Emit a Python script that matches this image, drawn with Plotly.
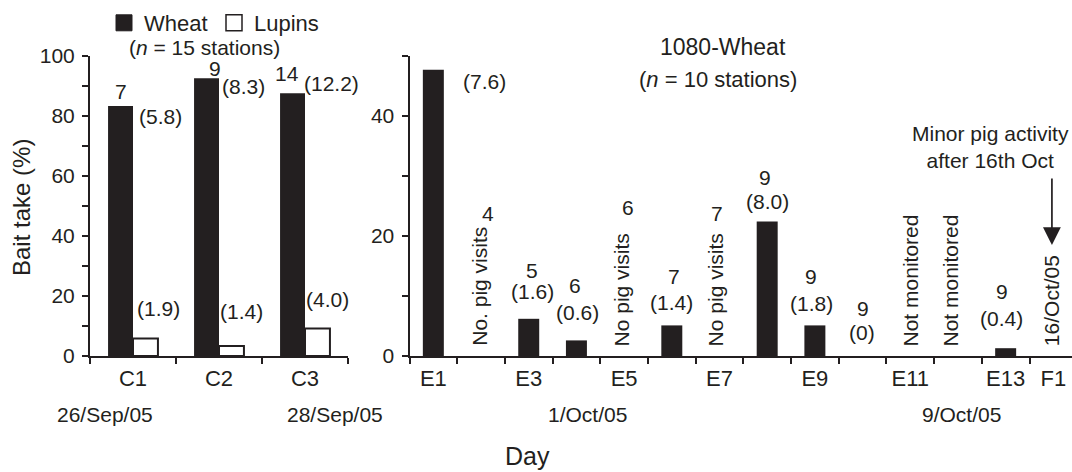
import plotly.graph_objects as go

W, H = 1072, 472
FONT = "Liberation Sans, Arial, Helvetica, sans-serif"
INK = "#231f20"

# ---------------- data ----------------
ctrl_days = ["C1", "C2", "C3"]
wheat_ctrl = [83.3, 92.6, 87.6]
lupin_ctrl = [5.8, 3.3, 9.2]
wheat_ctrl_n = ["7", "9", "14"]
wheat_ctrl_se = ["(5.8)", "(8.3)", "(12.2)"]
lupin_ctrl_se = ["(1.9)", "(1.4)", "(4.0)"]

exp_days = ["E1", "E2", "E3", "E4", "E5", "E6", "E7", "E8", "E9", "E10",
            "E11", "E12", "E13", "F1"]
exp_tick_text = ["E1", "", "E3", "", "E5", "", "E7", "", "E9", "",
                 "E11", "", "E13", "F1"]
wheat_1080 = [47.7, 0, 6.2, 2.6, 0, 5.1, 0, 22.4, 5.1, 0, None, None, 1.3, None]
wheat_1080_n = ["4", "4", "5", "6", "6", "7", "7", "9", "9", "9", "", "", "9", ""]
wheat_1080_se = ["(7.6)", "", "(1.6)", "(0.6)", "", "(1.4)", "", "(8.0)", "(1.8)",
                 "(0)", "", "", "(0.4)", ""]
wheat_1080_note = ["", "No. pig visits", "", "", "No pig visits", "", "No pig visits",
                   "", "", "", "Not monitored", "Not monitored", "", "16/Oct/05"]

date_labels = ["26/Sep/05", "28/Sep/05", "1/Oct/05", "9/Oct/05"]

# ---------------- label placement (layout) ----------------
# left panel: (dx in category units, y in data units)
ctrl_n_pos = [(-0.14, 88.3), (-0.05, 95.7), (-0.21, 94.3)]
ctrl_se_pos = [(0.32, 79.7), (0.29, 89.7), (0.31, 90.7)]
lupin_se_pos = [(0.30, 16.0), (0.26, 14.7), (0.26, 19.0)]
# right panel
exp_n_pos = [(0.0, 51.0), (0.14, 23.8), (0.06, 14.2), (-0.02, 11.7), (0.09, 24.7),
             (0.04, 13.2), (-0.06, 23.8), (-0.04, 29.8), (-0.09, 13.2), (0.0, 8.0),
             None, None, (-0.08, 10.7), None]
exp_se_pos = [(1.07, 45.7), None, (0.08, 10.7), (0.02, 7.3), None, (0.0, 9.0), None,
              (0.0, 25.7), (-0.07, 8.7), (-0.01, 4.0), None, None, (-0.08, 6.2), None]
note_dx = [0, -0.02, 0, 0, -0.05, 0, -0.08, 0, 0, 0, 0.0, -0.16, 0, -0.04]


def px(x):
    return x / W


def py(y):
    return 1 - y / H


fig = go.Figure()

fig.add_trace(go.Bar(x=ctrl_days, y=wheat_ctrl, name="Wheat", xaxis="x", yaxis="y",
                     marker=dict(color=INK, line=dict(width=0)),
                     showlegend=False, hoverinfo="skip"))
fig.add_trace(go.Bar(x=ctrl_days, y=lupin_ctrl, name="Lupins", xaxis="x", yaxis="y",
                     marker=dict(color="white", line=dict(color=INK, width=2)),
                     showlegend=False, hoverinfo="skip"))
fig.add_trace(go.Bar(x=exp_days, y=wheat_1080, name="1080-Wheat", xaxis="x2", yaxis="y2",
                     width=0.44, marker=dict(color=INK, line=dict(width=0)),
                     showlegend=False, hoverinfo="skip"))

# legend entries
fig.add_trace(go.Scatter(x=[None], y=[None], mode="markers", name="Wheat",
                         marker=dict(symbol="square", size=16, color=INK,
                                     line=dict(color=INK, width=1)),
                         legend="legend", xaxis="x", yaxis="y"))
fig.add_trace(go.Scatter(x=[None], y=[None], mode="markers", name="Lupins",
                         marker=dict(symbol="square", size=16, color="white",
                                     line=dict(color=INK, width=1.5)),
                         legend="legend2", xaxis="x", yaxis="y"))

ann = []
tf = dict(family=FONT, size=21, color=INK)
C = dict(xanchor="center", yanchor="middle", showarrow=False)

for i in range(len(ctrl_days)):
    dx, y = ctrl_n_pos[i]
    ann.append(dict(x=i + dx, y=y, xref="x", yref="y", text=wheat_ctrl_n[i],
                    font=tf, **C))
    dx, y = ctrl_se_pos[i]
    ann.append(dict(x=i + dx, y=y, xref="x", yref="y", text=wheat_ctrl_se[i],
                    font=tf, **C))
    dx, y = lupin_se_pos[i]
    ann.append(dict(x=i + dx, y=y, xref="x", yref="y", text=lupin_ctrl_se[i],
                    font=tf, **C))

for i in range(len(exp_days)):
    if exp_n_pos[i] and wheat_1080_n[i]:
        dx, y = exp_n_pos[i]
        ann.append(dict(x=i + dx, y=y, xref="x2", yref="y2", text=wheat_1080_n[i],
                        font=tf, **C))
    if exp_se_pos[i] and wheat_1080_se[i]:
        dx, y = exp_se_pos[i]
        ann.append(dict(x=i + dx, y=y, xref="x2", yref="y2", text=wheat_1080_se[i],
                        font=tf, **C))
    if wheat_1080_note[i]:
        ann.append(dict(x=i + note_dx[i], y=1.3, xref="x2", yref="y2",
                        text=wheat_1080_note[i], textangle=-90,
                        xanchor="center", yanchor="bottom",
                        showarrow=False, font=tf))

# arrow to F1
ann.append(dict(x=exp_days.index("F1") - 0.03, y=18.5, xref="x2", yref="y2", text="",
                showarrow=True, arrowhead=2, arrowsize=2.1, arrowwidth=1.7,
                arrowcolor=INK, ax=0, ay=-68))
ann.append(dict(x=px(990), y=py(147), xref="paper", yref="paper",
                text="Minor pig activity<br>after 16th Oct", align="center",
                font=dict(family=FONT, size=21, color=INK), **C))

# titles / headers
ann.append(dict(x=px(723), y=py(47), xref="paper", yref="paper", text="1080-Wheat",
                font=dict(family=FONT, size=23, color=INK), **C))
ann.append(dict(x=px(718), y=py(79), xref="paper", yref="paper",
                text="(<i>n</i> = 10 stations)",
                font=dict(family=FONT, size=22, color=INK), **C))
ann.append(dict(x=px(204), y=py(48), xref="paper", yref="paper",
                text="(<i>n</i> = 15 stations)",
                font=dict(family=FONT, size=21, color=INK), **C))

# date labels
date_x = [104.5, 335, 587, 961]
for lbl, xp in zip(date_labels, date_x):
    ann.append(dict(x=px(xp), y=py(414), xref="paper", yref="paper", text=lbl,
                    font=dict(family=FONT, size=21, color=INK), **C))

# axis titles
ann.append(dict(x=px(22), y=py(208), xref="paper", yref="paper", text="Bait take (%)",
                textangle=-90, font=dict(family=FONT, size=24, color=INK), **C))
ann.append(dict(x=px(527), y=py(456), xref="paper", yref="paper", text="Day",
                font=dict(family=FONT, size=25, color=INK), **C))

y_dom = [1 - 356 / H, 1 - 56 / H]
axis_common = dict(showline=True, linecolor=INK, linewidth=2, ticks="outside",
                   ticklen=6, tickwidth=1.5, tickcolor=INK, showgrid=False,
                   zeroline=False, automargin=False, tickangle=0)
yfont = dict(family=FONT, size=21, color=INK)
xfont = dict(family=FONT, size=22, color=INK)
minor_ticks = dict(dtick=10, ticks="outside", ticklen=6, tickwidth=1.5, tickcolor=INK)

cat_w = (1030 - 410) / 13.0

fig.update_layout(
    width=W, height=H,
    margin=dict(l=0, r=0, t=0, b=0, autoexpand=False),
    paper_bgcolor="white", plot_bgcolor="white",
    barmode="group", bargap=0.42, bargroupgap=0,
    font=dict(family=FONT, color=INK),
    xaxis=dict(domain=[px(90), px(348)], anchor="y", type="category",
               tickson="boundaries", range=[-0.5, 2.5], tickfont=xfont,
               ticklabelstandoff=2, **axis_common),
    yaxis=dict(domain=y_dom, anchor="x", range=[0, 100], dtick=20,
               minor=minor_ticks, tickfont=yfont, ticklabelstandoff=3,
               **axis_common),
    xaxis2=dict(domain=[px(409.5), 1.0], anchor="y2", type="category",
                tickson="boundaries", tickmode="array", tickvals=exp_days,
                ticktext=exp_tick_text,
                range=[-0.5, -0.5 + (W - 409.5) / cat_w], tickfont=xfont,
                ticklabelstandoff=2, **axis_common),
    yaxis2=dict(domain=y_dom, anchor="x2", range=[0, 50], dtick=20,
                minor=minor_ticks, tickfont=yfont, ticklabelstandoff=3,
                **axis_common),
    legend=dict(x=px(104), y=py(23), xanchor="left", yanchor="middle",
                orientation="h", bgcolor="rgba(0,0,0,0)",
                font=dict(family=FONT, size=22, color=INK), itemsizing="trace"),
    legend2=dict(x=px(214), y=py(23), xanchor="left", yanchor="middle",
                 orientation="h", bgcolor="rgba(0,0,0,0)",
                 font=dict(family=FONT, size=22, color=INK), itemsizing="trace"),
    annotations=ann,
    showlegend=True,
)

fig.write_html("out.html")
